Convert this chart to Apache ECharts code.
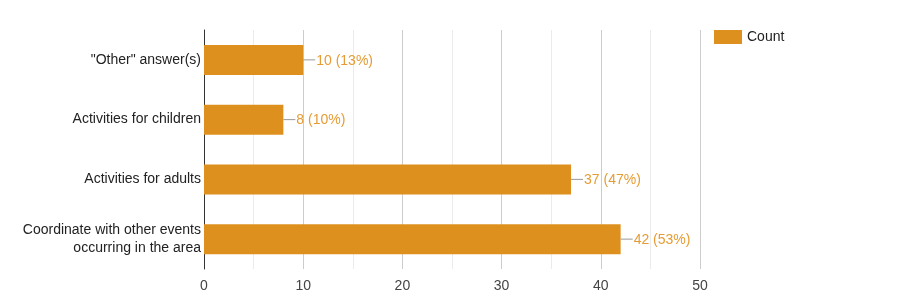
<!DOCTYPE html>
<html><head><meta charset="utf-8">
<script src="https://cdn.jsdelivr.net/npm/echarts@6/dist/echarts.min.js"></script>
<style>html,body{margin:0;padding:0;background:#fff}#c{width:904px;height:300px}</style>
</head><body><div id="c"></div>
<script>
const categories = ['"Other" answer(s)', 'Activities for children', 'Activities for adults', 'Coordinate with other events\noccurring in the area'];
const counts = [10, 8, 37, 42];
const percents = [13, 10, 47, 53];
const seriesName = 'Count';

const chart = echarts.init(document.getElementById('c'));
chart.setOption({
  animation: false,
  textStyle: { fontFamily: 'Liberation Sans, Arial, sans-serif' },
  grid: { left: 204, right: 204, top: 30, bottom: 31 },
  legend: {
    left: 714, top: 30, padding: 0, itemWidth: 28, itemHeight: 14, itemGap: 6,
    icon: 'rect',
    textStyle: { fontSize: 14, color: '#222', padding: [3, 0, 0, 0] },
    data: [seriesName]
  },
  xAxis: {
    type: 'value', min: 0, max: 50, interval: 10,
    axisLine: { show: false }, axisTick: { show: false },
    axisLabel: { fontSize: 14, color: '#444', margin: 10 },
    splitLine: { lineStyle: { color: '#cccccc', width: 1 } },
    minorTick: { show: false, splitNumber: 2 },
    minorSplitLine: { show: true, lineStyle: { color: '#ebebeb', width: 1 } }
  },
  yAxis: {
    type: 'category', inverse: true, data: categories,
    axisLine: { show: true, lineStyle: { color: '#333', width: 1 } },
    axisTick: { show: false },
    axisLabel: { fontSize: 14, color: '#222', margin: 3, lineHeight: 18, align: 'right', padding: [5, 0, 0, 0] }
  },
  series: [{
    name: seriesName, type: 'bar', data: counts, barWidth: 30,
    itemStyle: { color: '#de901f' },
    label: {
      show: true, position: 'right', distance: 0,
      formatter: p => '{l|}{t|' + p.value + ' (' + percents[p.dataIndex] + '%)}',
      rich: {
        l: { width: 12, height: 1, backgroundColor: '#999' },
        t: { fontSize: 14, color: '#e69c34', padding: [2, 0, 0, 1] }
      }
    }
  }]
});
</script></body></html>
